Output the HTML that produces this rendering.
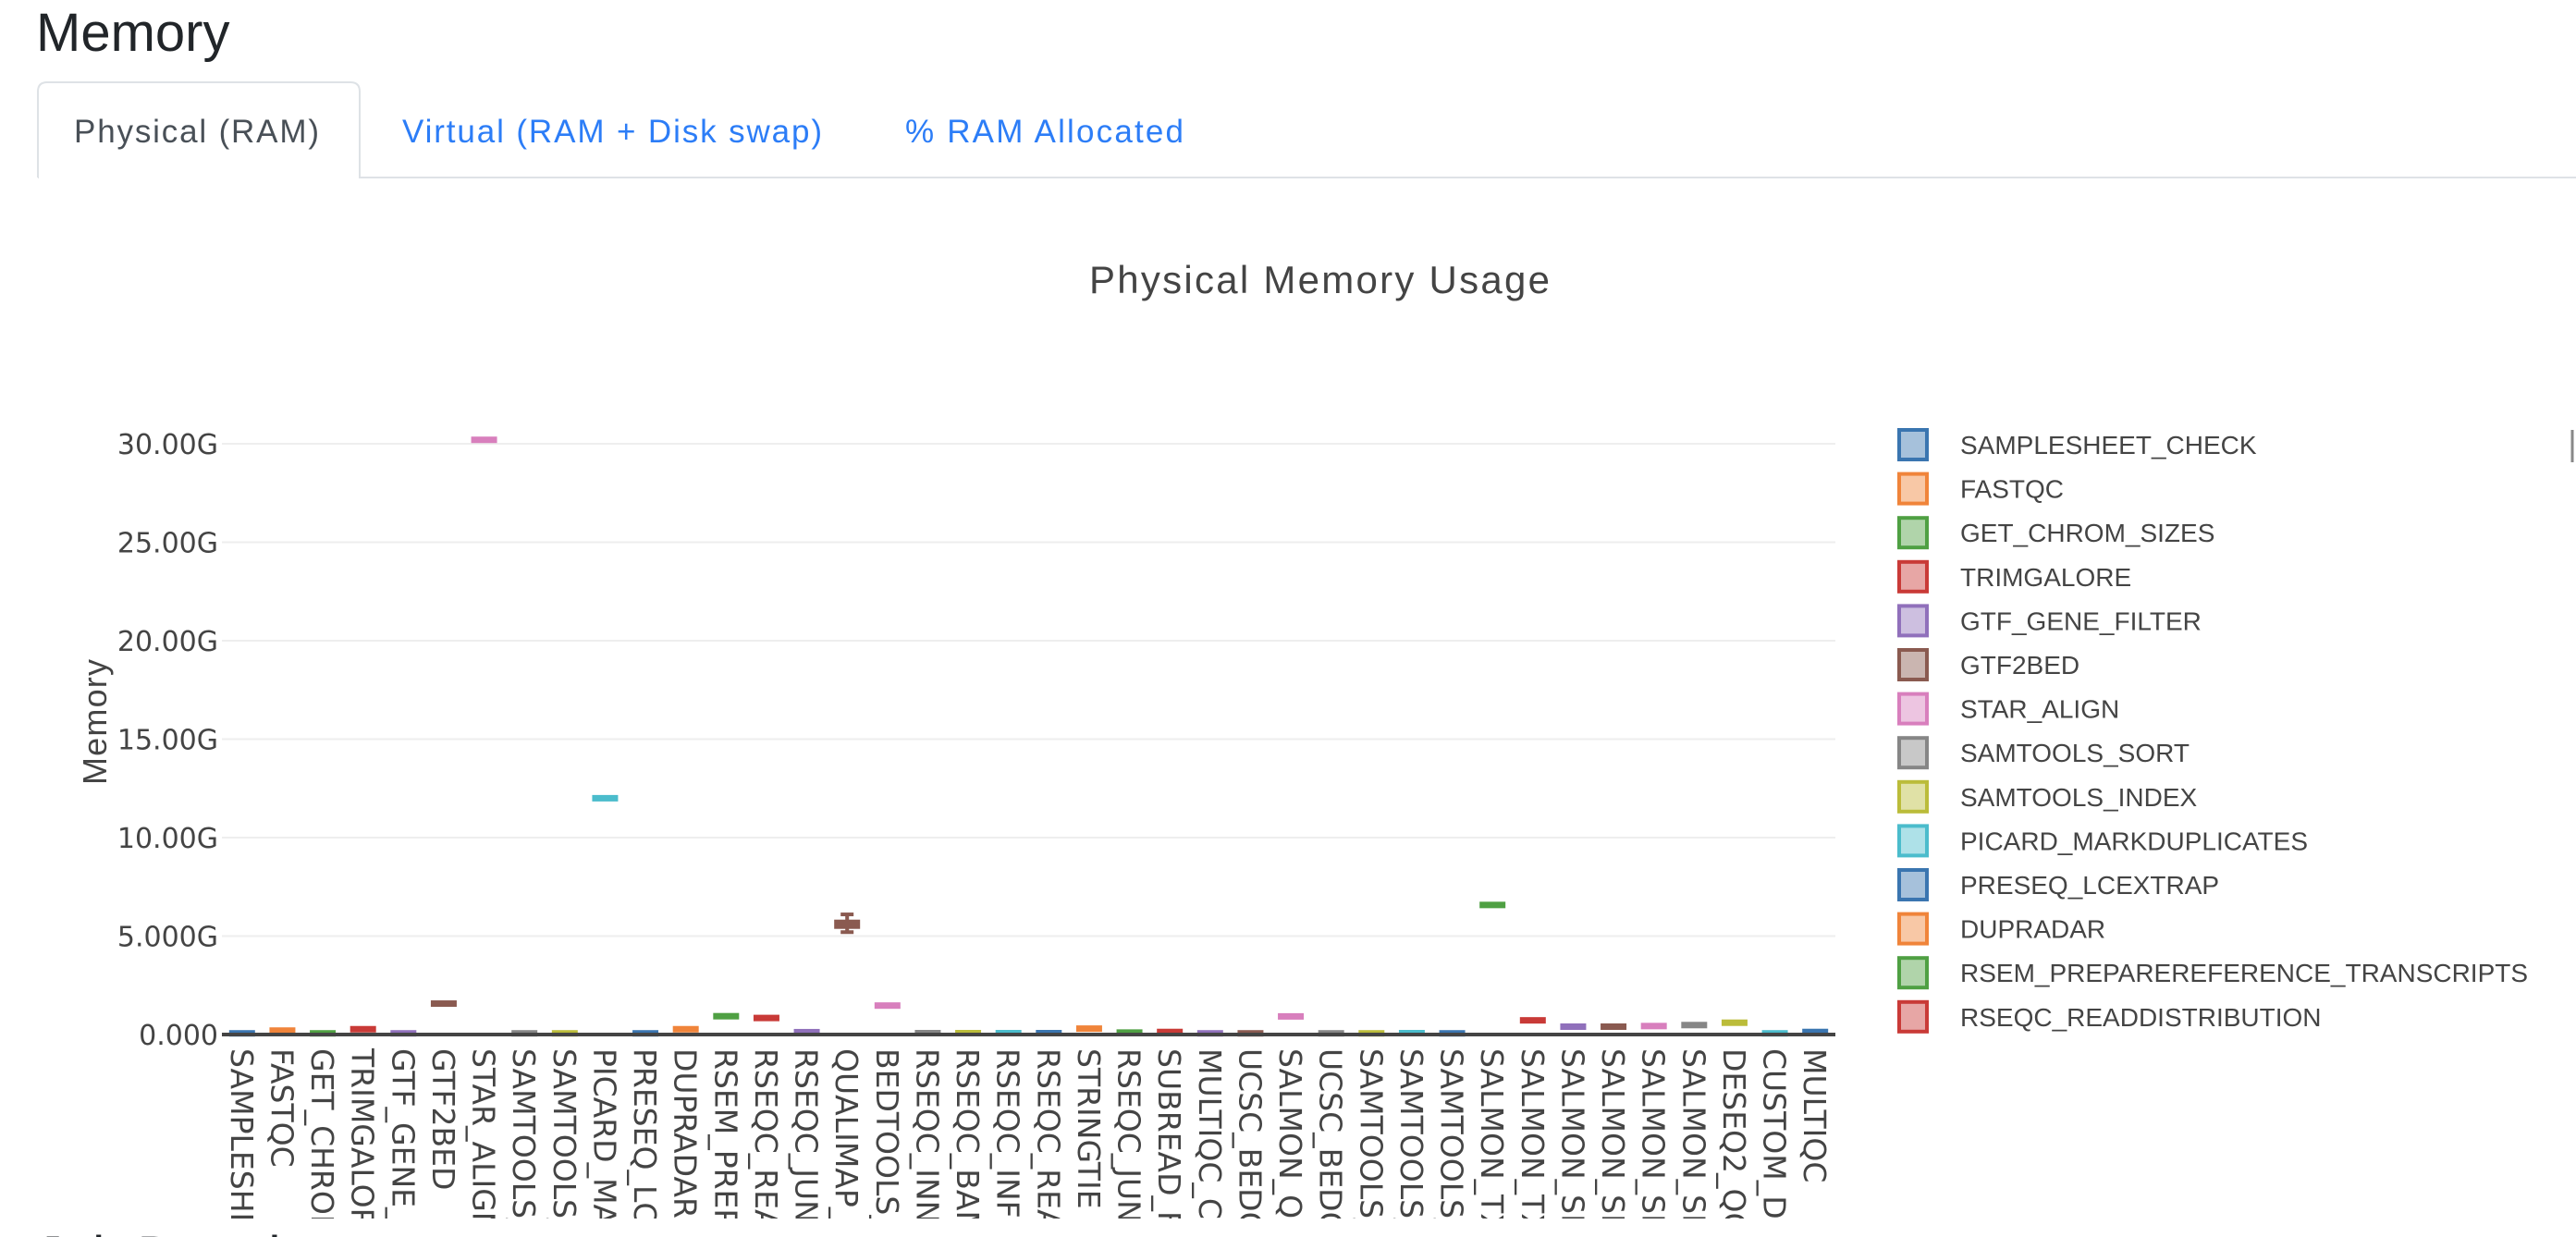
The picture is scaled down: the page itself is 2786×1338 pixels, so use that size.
<!DOCTYPE html>
<html><head><meta charset="utf-8"><style>
html,body{margin:0;padding:0;background:#fff;width:2786px;height:1338px;overflow:hidden;}
svg{display:block;}
</style></head><body>
<svg id="root" width="2786" height="1338" xmlns="http://www.w3.org/2000/svg">
  <defs>
    <clipPath id="xclip"><rect x="200" y="1125" width="1820" height="193"/></clipPath>
    <clipPath id="pageclip"><rect x="0" y="0" width="2786" height="1338"/></clipPath>
  </defs>
  <text x="39" y="55" font-family="Liberation Sans, sans-serif" font-size="58" fill="#212529" font-weight="500">Memory</text>
  <line x1="41" y1="192" x2="2786" y2="192" stroke="#dee2e6" stroke-width="2"/>
  <path d="M41,192 V99 Q41,89 51,89 H379 Q389,89 389,99 V192" fill="#fff" stroke="#dee2e6" stroke-width="2"/>
  <line x1="42" y1="192" x2="388" y2="192" stroke="#fff" stroke-width="3"/>
  <text x="80" y="154" font-family="Liberation Sans, sans-serif" font-size="35" fill="#495057" textLength="265">Physical (RAM)</text>
  <text x="435" y="154" font-family="Liberation Sans, sans-serif" font-size="35" fill="#2c7df7" textLength="454">Virtual (RAM + Disk swap)</text>
  <text x="979" y="154" font-family="Liberation Sans, sans-serif" font-size="35" fill="#2c7df7" textLength="301">% RAM Allocated</text>
  <text x="1427" y="317" text-anchor="middle" font-family="Liberation Sans, sans-serif" font-size="42" fill="#444" textLength="498">Physical Memory Usage</text>
  <g id="grid"></g>
  <g id="yticks"></g>
  <text transform="translate(115,781) rotate(-90)" text-anchor="middle" font-family="Liberation Sans, sans-serif" font-size="36" fill="#444" textLength="136">Memory</text>
  <g id="xlabels" clip-path="url(#xclip)"></g>
  <g id="marks"></g>
  <line x1="240" y1="1119" x2="1985" y2="1119" stroke="#444" stroke-width="4"/>
  <g id="legend"></g>
  <line x1="2782" y1="465" x2="2782" y2="500" stroke="#888" stroke-width="3"/>
  <g clip-path="url(#pageclip)"><text x="39" y="1378" font-family="Liberation Sans, sans-serif" font-size="58" fill="#212529" font-weight="500">Job Duration</text></g>
</svg>
<script>
const categories = ["SAMPLESHEET_CHECK","FASTQC","GET_CHROM_SIZES","TRIMGALORE","GTF_GENE_FILTER","GTF2BED","STAR_ALIGN","SAMTOOLS_SORT","SAMTOOLS_INDEX","PICARD_MARKDUPLICATES","PRESEQ_LCEXTRAP","DUPRADAR","RSEM_PREPAREREFERENCE_TRANSCRIPTS","RSEQC_READDISTRIBUTION","RSEQC_JUNCTIONSATURATION","QUALIMAP_RNASEQ","BEDTOOLS_GENOMECOV","RSEQC_INNERDISTANCE","RSEQC_BAMSTAT","RSEQC_INFEREXPERIMENT","RSEQC_READDUPLICATION","STRINGTIE","RSEQC_JUNCTIONANNOTATION","SUBREAD_FEATURECOUNTS","MULTIQC_CUSTOM_BIOTYPE","UCSC_BEDCLIP","SALMON_QUANT","UCSC_BEDGRAPHTOBIGWIG","SAMTOOLS_STATS","SAMTOOLS_FLAGSTAT","SAMTOOLS_IDXSTATS","SALMON_TX2GENE","SALMON_TXIMPORT","SALMON_SE_GENE","SALMON_SE_GENE_LENGTH_SCALED","SALMON_SE_GENE_SCALED","SALMON_SE_TRANSCRIPT","DESEQ2_QC","CUSTOM_DUMPSOFTWAREVERSIONS","MULTIQC"];
const medianGB = [0.06,0.2,0.06,0.27,0.06,1.57,30.2,0.06,0.06,12.0,0.06,0.27,0.93,0.84,0.12,5.6,1.47,0.07,0.07,0.07,0.07,0.3,0.1,0.13,0.06,0.06,0.92,0.06,0.06,0.07,0.06,6.58,0.72,0.4,0.4,0.43,0.48,0.6,0.06,0.13];
const whiskerLowGB = [0.06,0.2,0.06,0.27,0.06,1.57,30.2,0.06,0.06,12.0,0.06,0.27,0.93,0.84,0.12,5.2,1.47,0.07,0.07,0.07,0.07,0.3,0.1,0.13,0.06,0.06,0.92,0.06,0.06,0.07,0.06,6.58,0.72,0.4,0.4,0.43,0.48,0.6,0.06,0.13];
const whiskerHighGB = [0.06,0.2,0.06,0.27,0.06,1.57,30.2,0.06,0.06,12.0,0.06,0.27,0.93,0.84,0.12,6.1,1.47,0.07,0.07,0.07,0.07,0.3,0.1,0.13,0.06,0.06,0.92,0.06,0.06,0.07,0.06,6.58,0.72,0.4,0.4,0.43,0.48,0.6,0.06,0.13];
const colorIndex = [0,1,2,3,4,5,6,7,8,9,0,1,2,3,4,5,6,7,8,9,0,1,2,3,4,5,6,7,8,9,0,2,3,4,5,6,7,8,9,0];
const yTickValues = [0,5,10,15,20,25,30];
const yTickLabels = ["0.000","5.000G","10.00G","15.00G","20.00G","25.00G","30.00G"];
const legendEntries = ["SAMPLESHEET_CHECK","FASTQC","GET_CHROM_SIZES","TRIMGALORE","GTF_GENE_FILTER","GTF2BED","STAR_ALIGN","SAMTOOLS_SORT","SAMTOOLS_INDEX","PICARD_MARKDUPLICATES","PRESEQ_LCEXTRAP","DUPRADAR","RSEM_PREPAREREFERENCE_TRANSCRIPTS","RSEQC_READDISTRIBUTION"];
const palette = ["#3a75b0","#f0843a","#4fa043","#c93a37","#9070bb","#8a5a50","#d87fbd","#868686","#bbbc3a","#4bbccc"];

const NS = "http://www.w3.org/2000/svg";
const plotL = 240, plotR = 1985, y0 = 1119, y30 = 480;
function yScale(v){ return y0 - (v/30)*(y0 - y30); }
function xBand(i){ const w=(plotR-plotL)/categories.length; return plotL + w*(i+0.5); }
function mk(tag, attrs, parent){ const e=document.createElementNS(NS,tag); for(const k in attrs) e.setAttribute(k,attrs[k]); parent.appendChild(e); return e; }

const grid=document.getElementById('grid'), yt=document.getElementById('yticks');
yTickValues.forEach((v,i)=>{
  if(v>0){
    const gl=mk('line',{x1:plotL,x2:plotR,y1:yScale(v),y2:yScale(v),stroke:'#eeeeee','stroke-width':2},grid);
    
    
  }
  const t=mk('text',{x:236,y:yScale(v)+11,'text-anchor':'end','font-family':'DejaVu Sans, sans-serif','font-size':30,fill:'#444'},yt);
  t.textContent=yTickLabels[i];
  
  
});

const xl=document.getElementById('xlabels');
categories.forEach((c,i)=>{
  const x=xBand(i);
  const t=mk('text',{transform:`translate(${x-12},1134) rotate(90)`,'font-family':'DejaVu Sans, sans-serif','font-size':33,fill:'#444'},xl);
  t.textContent=c;
  
  
});

const marks=document.getElementById('marks');
categories.forEach((c,i)=>{
  const x=xBand(i), col=palette[colorIndex[i]], w=27;
  const g=mk('g',{},marks);
  
  
  const lo=yScale(whiskerLowGB[i]), hi=yScale(whiskerHighGB[i]);
  if(lo-hi>2){
    mk('line',{x1:x,x2:x,y1:lo,y2:hi,stroke:col,'stroke-width':4},g);
    mk('line',{x1:x-7,x2:x+7,y1:lo,y2:lo,stroke:col,'stroke-width':4},g);
    mk('line',{x1:x-7,x2:x+7,y1:hi,y2:hi,stroke:col,'stroke-width':4},g);
  }
  const ym=yScale(medianGB[i]);
  const h = (lo-hi>2)? 9 : 6;
  mk('rect',{x:x-w/2,y:ym-h/2,width:w,height:h,fill:col,stroke:col,'stroke-width':1},g);
});

const lg=document.getElementById('legend');
legendEntries.forEach((n,i)=>{
  const cy=481+i*47.6, col=palette[i%10];
  const g=mk('g',{},lg);
  
  
  mk('rect',{x:2054,y:cy-16,width:30,height:32,fill:col,'fill-opacity':0.45,stroke:col,'stroke-width':4},g);
  const t=mk('text',{x:2120,y:cy+10,'font-family':'Liberation Sans, sans-serif','font-size':28,fill:'#444'},g);
  t.textContent=n;
});
</script>
</body></html>
